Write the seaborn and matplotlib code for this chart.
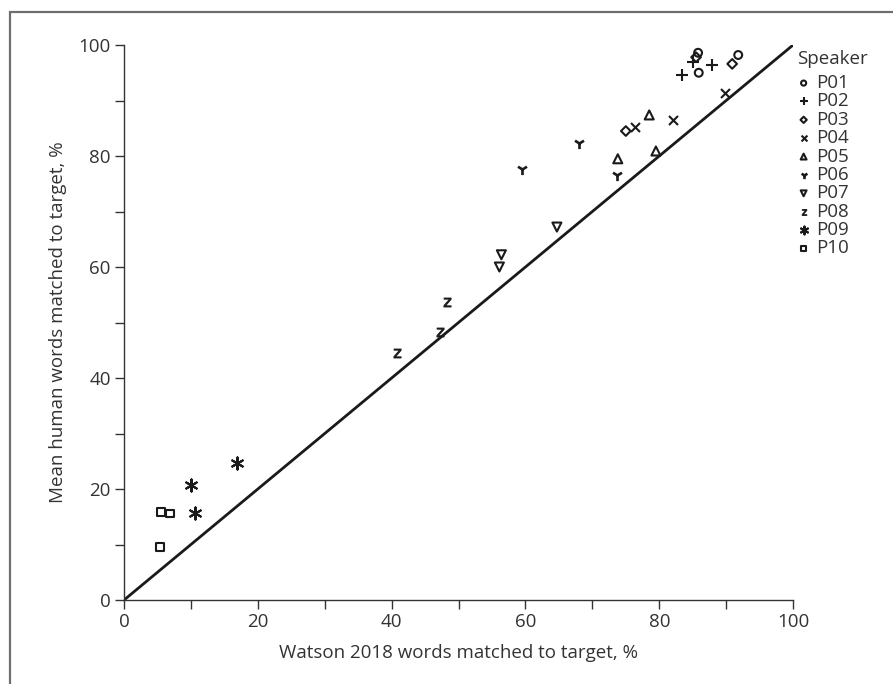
import numpy as np
import pandas as pd
import matplotlib
matplotlib.use("Agg")
import matplotlib.pyplot as plt
from matplotlib.patches import Rectangle
import seaborn as sns


SPEAKERS = ["P01", "P02", "P03", "P04", "P05", "P06", "P07", "P08", "P09", "P10"]

# three points per speaker: (Watson 2018 %, mean human %)
WATSON = {
    "P01": [85.8, 85.9, 91.8],
    "P02": [83.4, 87.9, 85.1],
    "P03": [85.5, 90.9, 75.0],
    "P04": [76.4, 82.1, 89.8],
    "P05": [78.5, 79.5, 73.8],
    "P06": [59.5, 68.0, 73.7],
    "P07": [64.7, 56.4, 56.1],
    "P08": [48.3, 47.2, 40.8],
    "P09": [16.9, 10.0, 10.6],
    "P10": [5.5, 6.9, 5.4],
}
HUMAN = {
    "P01": [98.6, 95.0, 98.2],
    "P02": [94.6, 96.4, 96.9],
    "P03": [97.8, 96.6, 84.5],
    "P04": [85.2, 86.5, 91.4],
    "P05": [87.4, 80.9, 79.5],
    "P06": [77.7, 82.3, 76.6],
    "P07": [67.2, 62.2, 60.0],
    "P08": [53.7, 48.3, 44.5],
    "P09": [24.7, 20.7, 15.7],
    "P10": [15.9, 15.6, 9.5],
}

IDENTITY = [0, 100]

# marker, hollow?, size
MARKERS = {
    "P01": ("o", True, 32),
    "P02": ("+", False, 75),
    "P03": ("D", True, 24),
    "P04": ("x", False, 42),
    "P05": ("^", True, 42),
    "P06": ("1", False, 65),
    "P07": ("v", True, 42),
    "P08": (r"$\mathsf{z}$", False, 42),
    "P09": ((6, 2, 0), False, 75),
    "P10": ("s", True, 30),
}

rows = []
for s in SPEAKERS:
    for w, h in zip(WATSON[s], HUMAN[s]):
        rows.append({"speaker": s, "watson": w, "human": h})
df = pd.DataFrame(rows)

sns.set_style("ticks")
plt.rcParams["font.family"] = ["Open Sans", "DejaVu Sans"]

TXT = "#333333"
INK = "#1a1a1a"
FS = 13.5

fig = plt.figure(figsize=(8.93, 6.84), dpi=100)
ax = fig.add_axes([0.1389, 0.1228, 0.7492, 0.8114])

ax.plot(IDENTITY, IDENTITY, color=INK, lw=2.0, zorder=1,
        solid_capstyle="butt")

for s in SPEAKERS:
    m, hollow, size = MARKERS[s]
    kw = dict(marker=m, s=size, color=INK, edgecolor=INK,
              linewidth=1.5, clip_on=False, zorder=3, label=s)
    if hollow:
        kw["facecolor"] = "none"
    if s == "P08":
        kw["linewidth"] = 0.6
    if s == "P06":
        kw["linewidth"] = 1.9
    sns.scatterplot(data=df[df["speaker"] == s], x="watson", y="human",
                    ax=ax, legend=False, **kw)

ax.set_xlim(0, 100)
ax.set_ylim(0, 100)
ax.set_xticks(np.arange(0, 101, 20))
ax.set_yticks(np.arange(0, 101, 20))
ax.set_xticks(np.arange(10, 100, 20), minor=True)
ax.set_yticks(np.arange(10, 100, 20), minor=True)
ax.tick_params(which="major", length=6.5, width=1, color=TXT,
               labelsize=FS, labelcolor=TXT, pad=3)
ax.tick_params(which="minor", length=6.5, width=1, color=TXT)
for side in ["top", "right"]:
    ax.spines[side].set_visible(False)
for side in ["left", "bottom"]:
    ax.spines[side].set_color(TXT)
    ax.spines[side].set_linewidth(1)

ax.set_xlabel("Watson 2018 words matched to target, %", fontsize=FS,
              color=TXT, labelpad=9)
ax.set_ylabel("Mean human words matched to target, %", fontsize=FS,
              color=TXT, labelpad=8)

fig.text(797 / 893, 1 - 59 / 684, "Speaker", fontsize=FS, color=TXT,
         ha="left", va="center")

handles, labels = ax.get_legend_handles_labels()
leg = fig.legend(handles, labels, loc="upper left",
                 bbox_to_anchor=(798 / 893, 1 - 74 / 684), frameon=False,
                 fontsize=FS, markerscale=0.65,
                 handlelength=0.6, handletextpad=0.35, labelspacing=0.02,
                 borderaxespad=0, borderpad=0)
for t in leg.get_texts():
    t.set_color(TXT)

# outer frame of the figure panel
fig.add_artist(Rectangle((10 / 893, -0.05), 1.0, 1 - 12 / 684 + 0.05,
                         transform=fig.transFigure, fill=False,
                         edgecolor="#6e6e6e", lw=1.6))

fig.savefig("out.png", dpi=100)
